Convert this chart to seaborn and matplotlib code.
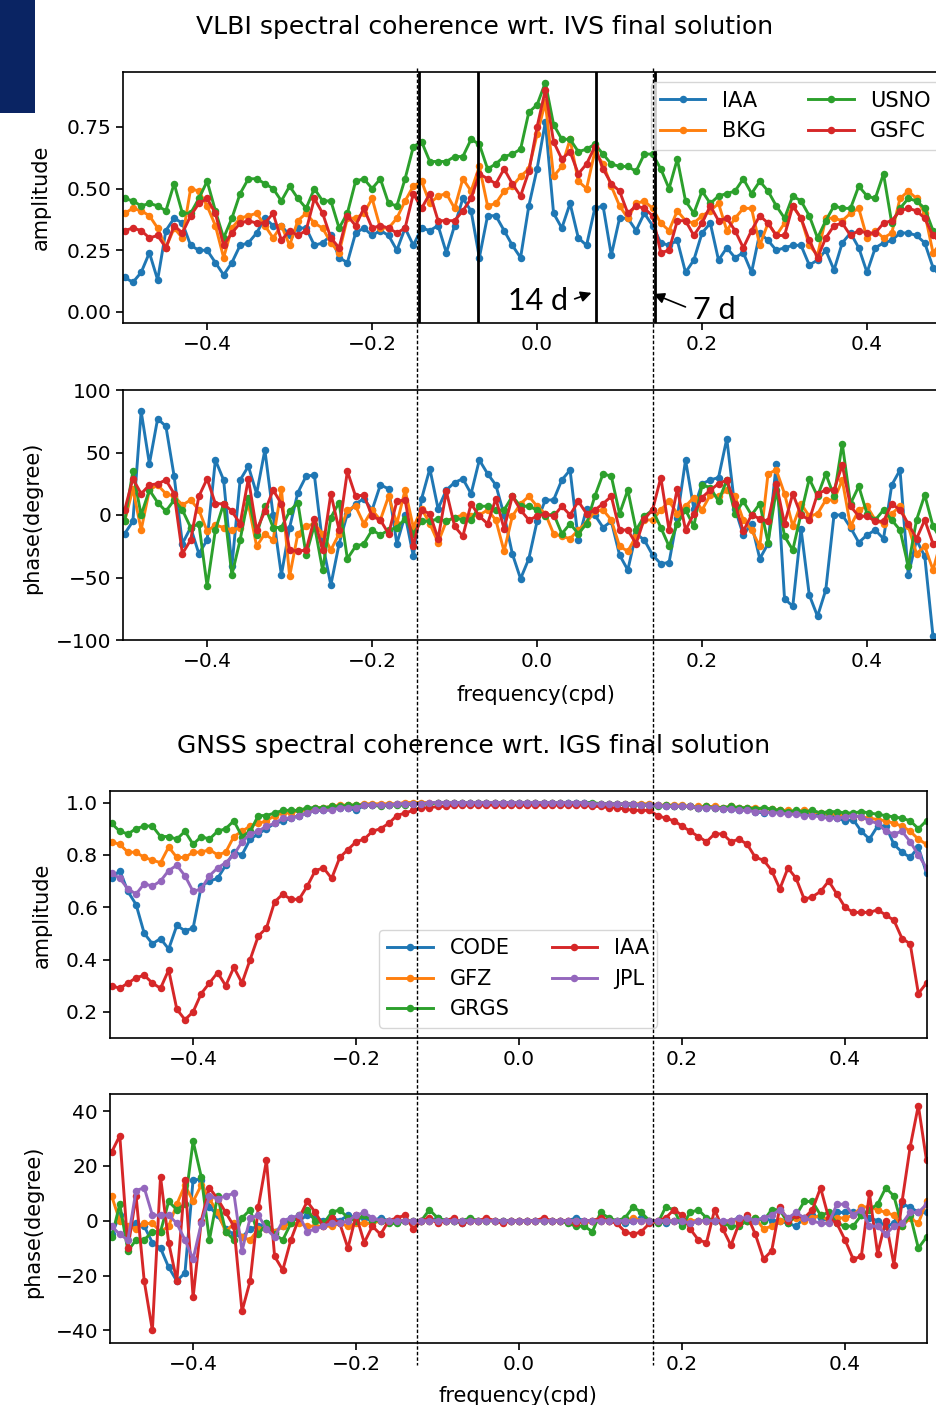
import numpy as np
import matplotlib
matplotlib.use("Agg")
import matplotlib.pyplot as plt
import seaborn as sns
from matplotlib.lines import Line2D
from matplotlib.patches import Rectangle

# ---------------- data ----------------
freq = np.round(np.linspace(-0.5, 0.5, 101), 2)   # frequency grid (cpd)

vlbi_names = ["IAA", "BKG", "USNO", "GSFC"]
vlbi_colors = ["#1f77b4", "#ff7f0e", "#2ca02c", "#d62728"]

vlbi_amp_IAA = [0.14,0.12,0.16,0.24,0.13,0.33,0.38,0.36,0.27,0.25,0.25,0.20,0.15,0.20,0.27,0.28,0.32,0.38,0.35,0.35,0.31,0.34,0.34,0.27,0.28,0.31,0.22,0.20,0.32,0.34,0.31,0.33,0.31,0.25,0.34,0.27,0.34,
                0.33,0.35,0.24,0.35,0.46,0.41,0.22,0.39,0.39,0.33,0.27,0.22,0.43,0.58,0.77,0.40,0.34,0.44,0.30,0.27,0.42,0.43,0.23,0.38,0.38,0.33,0.40,0.35,0.28,0.27,0.29,0.16,
                0.21,0.32,0.36,0.21,0.26,0.22,0.24,0.16,0.32,0.29,0.25,0.26,0.27,0.27,0.19,0.21,0.25,0.17,0.28,0.32,0.26,0.16,0.26,0.28,0.29,0.32,0.32,0.31,0.28,0.18,0.14,0.20]
vlbi_amp_BKG = [0.40,0.42,0.41,0.39,0.34,0.26,0.34,0.30,0.50,0.49,0.43,0.35,0.22,0.34,0.38,0.39,0.40,0.35,0.30,0.35,0.27,0.37,0.40,0.36,0.34,0.28,0.24,0.38,0.38,0.40,0.46,0.34,0.34,0.38,0.45,0.51,0.53,
                0.44,0.47,0.48,0.42,0.54,0.49,0.59,0.43,0.44,0.49,0.51,0.55,0.58,0.72,0.85,0.55,0.59,0.70,0.53,0.50,0.65,0.60,0.51,0.43,0.38,0.44,0.45,0.42,0.36,0.33,0.41,0.37,
                0.36,0.39,0.41,0.44,0.33,0.38,0.42,0.42,0.27,0.36,0.31,0.36,0.43,0.38,0.27,0.23,0.38,0.38,0.37,0.40,0.42,0.30,0.33,0.30,0.32,0.46,0.49,0.46,0.40,0.24,0.28,0.33]
vlbi_amp_USNO = [0.46,0.45,0.43,0.44,0.43,0.41,0.52,0.40,0.40,0.46,0.53,0.41,0.30,0.38,0.48,0.54,0.54,0.52,0.50,0.45,0.51,0.46,0.42,0.50,0.45,0.45,0.34,0.40,0.53,0.54,0.50,0.54,0.44,0.43,0.54,0.67,0.69,
                 0.61,0.61,0.61,0.63,0.63,0.70,0.68,0.58,0.60,0.63,0.64,0.66,0.81,0.84,0.93,0.76,0.70,0.70,0.65,0.66,0.68,0.64,0.60,0.59,0.59,0.57,0.64,0.64,0.58,0.50,0.62,0.45,
                 0.40,0.49,0.44,0.47,0.48,0.49,0.54,0.48,0.53,0.49,0.43,0.38,0.47,0.45,0.39,0.30,0.37,0.43,0.42,0.42,0.51,0.47,0.46,0.56,0.36,0.42,0.46,0.45,0.42,0.33,0.29,0.31]
vlbi_amp_GSFC = [0.33,0.34,0.33,0.30,0.31,0.26,0.35,0.32,0.39,0.44,0.46,0.40,0.27,0.32,0.36,0.37,0.36,0.36,0.40,0.29,0.33,0.31,0.33,0.46,0.40,0.30,0.26,0.39,0.35,0.42,0.34,0.35,0.34,0.32,0.34,0.48,0.42,
                 0.48,0.37,0.37,0.37,0.41,0.46,0.56,0.54,0.52,0.58,0.52,0.47,0.57,0.75,0.90,0.69,0.62,0.65,0.56,0.60,0.67,0.58,0.52,0.49,0.40,0.43,0.42,0.39,0.24,0.25,0.37,0.37,
                 0.31,0.36,0.43,0.37,0.38,0.33,0.26,0.33,0.39,0.36,0.31,0.31,0.43,0.38,0.29,0.22,0.30,0.35,0.36,0.31,0.33,0.32,0.32,0.36,0.37,0.41,0.42,0.41,0.38,0.31,0.28,0.32]

vlbi_ph_IAA = [-15,-5,83,41,77,71,31,-23,-10,-31,-20,44,28,-41,28,39,17,52,0,-48,-10,18,31,32,-23,-56,-23,1,9,13,4,24,21,-23,0,-33,13,
               37,5,20,26,29,
               17,44,33,24,0,-31,-51,-35,-5,12,12,28,36,-20,5,0,-10,-5,-32,-44,-15,-20,-32,-39,-38,-2,44,5,25,28,30,61,5,-16,-7,-35,-23,41,-67,-73,-11,-64,-81,-60,0,0,-10,-22,-16,-12,-19,24,36,-48,-20,-33,-97,-110,-120]
vlbi_ph_BKG = [-5,21,-12,20,24,17,15,8,12,4,-13,-8,-10,-12,-10,9,-25,-15,-20,21,-49,-15,-9,-7,-15,-28,-15,4,7,-7,4,-4,15,-7,20,-10,5,-7,-22,-5,-2,0,
               -1,0,4,-4,-29,-1,9,15,7,1,-15,-17,-19,-12,-6,3,4,-4,-25,-29,-17,-4,-4,4,11,1,7,14,4,16,15,20,15,-4,-12,-25,33,36,17,-9,9,-1,1,12,12,28,-9,4,7,-4,-7,1,7,-9,-31,-25,-44,-20,-30]
vlbi_ph_USNO = [-5,35,0,20,10,3,12,4,-10,-7,-57,-12,9,-48,-20,14,-16,7,-10,-10,3,10,-32,-8,-44,-2,10,-35,-25,-23,-12,-16,-12,-10,-3,-15,-5,-5,-3,-5,-2,-4,
                -4,7,7,4,4,15,7,7,4,-1,1,-15,-7,-15,-7,15,33,31,1,20,-12,-1,4,-10,-25,-7,4,-9,24,22,11,28,1,11,0,9,-22,20,-17,-28,1,29,15,33,15,57,9,23,1,-4,4,-4,-12,-41,-4,16,-9,-20,-10]
vlbi_ph_GSFC = [4,29,17,24,25,28,17,-31,-20,15,29,9,9,3,-7,29,-12,3,20,9,-28,-29,-28,-3,-28,17,-12,35,15,16,-1,-4,-15,11,12,-25,4,1,-19,19,-9,-17,
                9,-1,-7,13,-11,15,4,-4,-1,1,-1,7,0,11,1,4,9,15,-12,-12,-23,-3,4,30,-12,21,-12,1,14,20,25,28,9,-13,0,-3,-5,25,-7,17,0,-4,17,20,20,40,7,-1,-1,-5,-5,9,4,-7,-19,-4,-23,-20,-10]

gnss_names = ["CODE", "GFZ", "GRGS", "IAA", "JPL"]
gnss_colors = ["#1f77b4", "#ff7f0e", "#2ca02c", "#d62728", "#9467bd"]

gnss_amp_CODE = [0.71,0.74,0.66,0.61,0.50,0.46,0.48,0.44,0.53,0.51,0.52,0.68,0.70,0.71,0.76,0.81,0.80,0.86,0.88,0.90,0.92,0.93,0.94,0.95,0.96,0.97,0.97,0.98,0.98,0.98,0.97,0.99,
                 0.99,0.99,0.99,0.995,0.995,0.995,0.995,0.995,1.0,1.0,1.0,1.0,1.0,1.0,1.0,1.0,1.0,1.0,1.0,1.0,1.0,1.0,1.0,1.0,1.0,1.0,1.0,0.995,0.995,0.995,0.995,0.99,0.99,
                 0.99,0.99,0.99,0.985,0.985,0.985,0.985,0.98,0.98,0.98,0.975,0.975,0.97,0.975,0.965,0.96,0.965,0.965,0.96,0.96,0.955,0.96,0.955,
                 0.955,0.94,0.93,0.935,0.89,0.86,0.91,0.91,0.84,0.81,0.79,0.83,0.73]
gnss_amp_GFZ = [0.85,0.84,0.81,0.81,0.79,0.78,0.77,0.83,0.79,0.79,0.81,0.81,0.82,0.80,0.81,0.87,0.89,0.91,0.92,0.93,0.95,0.96,0.96,0.97,0.97,0.98,
                0.98,0.985,0.99,0.99,0.99,0.995,0.995,0.995,0.995,0.995,1.0,1.0,1.0,1.0,1.0,1.0,1.0,1.0,1.0,1.0,1.0,1.0,1.0,1.0,1.0,1.0,1.0,1.0,1.0,1.0,0.995,0.995,0.995,0.995,0.995,0.995,0.995,0.995,0.995,
                0.995,0.995,0.99,0.99,0.99,0.99,0.985,0.985,0.985,0.985,0.98,0.985,0.98,0.98,0.98,0.975,0.975,0.97,0.97,0.965,0.97,0.965,0.96,0.96,0.955,0.95,0.95,0.945,0.94,0.935,0.93,0.92,0.91,0.89,0.86,0.84]
gnss_amp_GRGS = [0.92,0.89,0.88,0.90,0.91,0.91,0.87,0.87,0.86,0.89,0.84,0.87,0.86,0.89,0.90,0.93,0.87,0.89,0.95,0.95,0.96,0.97,0.97,0.97,0.98,
                 0.98,0.98,0.985,0.985,0.99,0.99,0.99,0.99,0.985,0.99,0.99,0.99,0.995,0.995,0.995,1.0,1.0,1.0,1.0,1.0,1.0,1.0,1.0,1.0,1.0,1.0,1.0,1.0,1.0,1.0,1.0,1.0,1.0,1.0,1.0,0.995,0.995,0.995,0.995,0.995,
                 0.99,0.99,0.985,0.99,0.985,0.985,0.985,0.98,0.985,0.98,0.98,0.985,0.98,0.98,0.975,0.98,0.975,0.97,0.965,0.97,0.965,0.97,0.96,0.965,0.965,0.96,0.96,0.965,0.96,0.955,0.95,0.945,0.94,0.93,0.90,0.93]
gnss_amp_IAA = [0.30,0.29,0.31,0.33,0.34,0.31,0.29,0.36,0.21,0.17,0.20,0.27,0.31,0.35,0.30,0.37,0.31,0.40,0.49,0.52,0.62,0.65,0.63,0.63,0.68,0.74,0.75,0.71,0.79,0.82,0.85,0.86,0.89,0.90,0.92,0.95,0.96,0.97,0.98,
                0.98,0.985,0.985,0.99,0.99,0.99,0.99,0.99,0.99,0.99,0.99,0.99,0.99,0.99,0.99,0.99,0.99,0.99,0.99,0.99,0.985,0.985,0.98,0.98,0.975,0.97,
                0.97,0.97,0.95,0.94,0.93,0.91,0.89,0.87,0.85,0.88,0.88,0.85,0.86,0.84,0.79,0.78,0.74,0.67,0.75,0.71,0.63,0.64,0.66,0.70,0.65,0.60,0.58,0.58,0.58,0.59,0.57,0.55,0.48,0.46,0.27,0.31]
gnss_amp_JPL = [0.73,0.71,0.67,0.65,0.69,0.68,0.70,0.74,0.76,0.72,0.66,0.67,0.72,0.75,0.77,0.80,0.85,0.88,0.89,0.91,0.92,0.94,0.94,0.95,0.96,0.97,0.97,0.97,0.98,0.98,0.98,0.99,0.99,
                0.99,0.99,0.995,0.995,0.995,0.995,1.0,1.0,1.0,1.0,1.0,1.0,1.0,1.0,1.0,1.0,1.0,1.0,1.0,1.0,1.0,1.0,1.0,1.0,1.0,1.0,0.995,0.995,0.995,0.995,0.995,0.995,
                0.99,0.99,0.99,0.985,0.985,0.985,0.985,0.98,0.98,0.98,0.975,0.975,0.97,0.97,0.965,0.965,0.96,0.96,0.955,0.955,0.95,0.95,0.945,0.94,0.94,0.945,0.95,0.945,0.93,0.92,0.89,0.88,0.89,0.85,0.80,0.75]

gnss_ph_CODE = [-5,2,-3,-1,-2,-8,-10,-17,-22,-19,15,15,5,2,-3,-5,-6,-3,-2,-1,-4,-2,1,0,2,1,0,1,0,2,1,1,0,1,0,0,0,0,0,
                0,1,0,0,-1,0,0,0,0,0,0,0,0,0,0,0,0,0,1,0,0,
                0,0,0,-1,0,1,0,0,-1,0,-1,-1,0,0,0,-1,0,1,0,0,1,0,0,-1,-2,1,2,1,0,3,3,3,2,1,0,-2,-1,6,5,3,3]
gnss_ph_GFZ = [9,0,-2,-3,-1,-1,-4,-2,6,13,7,13,8,3,-4,-1,-6,-7,-3,-3,-4,-2,-1,-1,-2,-2,-2,-2,-1,-2,-1,-1,-1,0,0,0,0,0,0,
               0,0,0,0,0,0,0,0,0,0,0,0,0,0,0,0,0,0,0,-1,0,
               0,0,0,0,1,0,0,0,0,0,0,0,0,0,0,-1,0,0,0,1,-3,-2,0,0,1,0,1,2,0,1,1,2,5,5,4,3,2,-2,1,-1,7]
gnss_ph_GRGS = [-6,6,-11,-7,-7,-4,-4,7,4,6,29,16,-7,9,-4,-7,1,4,-5,-1,-5,-7,-1,2,4,0,-1,3,4,1,0,2,0,0,-1,-1,0,0,0,
                4,1,0,0,0,1,0,0,0,0,0,0,0,0,0,0,0,-1,-2,-2,-4,
                3,1,0,1,5,3,0,-1,5,4,-2,3,4,1,0,-1,-2,-2,0,1,0,4,4,-1,2,7,7,2,3,-1,-2,-2,2,4,6,12,9,-2,2,-10,-6]
gnss_ph_IAA = [25,31,-10,9,-22,-40,16,-8,-22,15,-28,0,12,8,3,-2,-33,-22,5,22,-13,-18,-7,1,7,3,-2,1,-1,-10,2,-8,-2,-5,0,1,2,-3,0,
               1,-1,0,1,-1,0,0,1,0,-1,0,0,0,0,1,0,0,0,-1,0,0,
               1,0,-1,-4,-5,-4,-1,0,1,4,2,-3,-7,-8,4,-3,-9,-1,2,-5,-14,-11,5,0,2,1,4,12,1,-1,-7,-14,-13,10,-12,0,-16,7,27,42,22]
gnss_ph_JPL = [-2,-5,-7,11,12,2,2,2,-1,-7,-14,-1,9,8,9,10,-11,1,2,-3,-6,0,1,2,-4,-3,-2,-1,-1,0,2,3,1,0,0,0,0,0,0,
               0,0,0,0,0,0,0,0,0,0,0,0,0,0,0,0,0,0,0,0,0,
               0,0,0,0,0,0,0,0,0,0,0,-1,0,0,0,0,0,1,1,0,1,2,4,1,3,1,0,-1,-1,6,6,2,4,-2,-2,-5,-2,-1,3,3,6]

period_lines = [-1/7, -1/14, 1/14, 1/7]   # 7 d and 14 d periods (cpd)

# ---------------- styling ----------------
plt.rcParams.update({
    "font.family": ["DejaVu Sans"],
    "axes.linewidth": 1.2,
    "xtick.major.width": 1.2, "ytick.major.width": 1.2,
    "xtick.major.size": 5, "ytick.major.size": 5,
    "xtick.labelsize": 14.5, "ytick.labelsize": 14.5,
    "axes.labelsize": 15,
})

W, H = 936, 1405
fig = plt.figure(figsize=(W / 100, H / 100), dpi=100)

def px_axes(left, top, right, bottom):
    return fig.add_axes([left / W, 1 - bottom / H, (right - left) / W, (bottom - top) / H])

ax1 = px_axes(123, 72, 949.5, 323)
ax2 = px_axes(123, 390, 949.5, 640)
ax3 = px_axes(110, 791, 926.5, 1038)
ax4 = px_axes(110, 1094, 926.5, 1343)

LW, MS = 2.1, 5.4

def draw(ax, series, names, colors, with_label):
    for vals, name, col in zip(series, names, colors):
        kw = dict(label=name) if with_label else {}
        sns.lineplot(x=freq, y=vals, ax=ax, color=col, marker="o", markersize=MS,
                     markeredgewidth=0, linewidth=LW, legend=False, **kw)

draw(ax1, [vlbi_amp_IAA, vlbi_amp_BKG, vlbi_amp_USNO, vlbi_amp_GSFC], vlbi_names, vlbi_colors, True)
draw(ax2, [vlbi_ph_IAA, vlbi_ph_BKG, vlbi_ph_USNO, vlbi_ph_GSFC], vlbi_names, vlbi_colors, False)
draw(ax3, [gnss_amp_CODE, gnss_amp_GFZ, gnss_amp_GRGS, gnss_amp_IAA, gnss_amp_JPL], gnss_names, gnss_colors, True)
draw(ax4, [gnss_ph_CODE, gnss_ph_GFZ, gnss_ph_GRGS, gnss_ph_IAA, gnss_ph_JPL], gnss_names, gnss_colors, False)

for ax in (ax1, ax2, ax3, ax4):
    ax.set_xlim(-0.502, 0.5)
    ax.set_xticks([-0.4, -0.2, 0.0, 0.2, 0.4])
    ax.set_xlabel("")

ax1.set_ylim(-0.045, 0.973)
ax1.set_yticks([0.0, 0.25, 0.5, 0.75])
ax2.set_ylim(-100, 100)
ax2.set_yticks([-100, -50, 0, 50, 100])
ax3.set_ylim(0.10, 1.044)
ax3.set_yticks([0.2, 0.4, 0.6, 0.8, 1.0])
ax4.set_ylim(-44.6, 46.2)
ax4.set_yticks([-40, -20, 0, 20, 40])

ax1.set_ylabel("amplitude")
ax2.set_ylabel("phase(degree)")
ax3.set_ylabel("amplitude")
ax4.set_ylabel("phase(degree)")
ax1.yaxis.set_label_coords(-0.088, 0.5)
ax2.yaxis.set_label_coords(-0.098, 0.49)
ax3.yaxis.set_label_coords(-0.071, 0.495)
ax4.yaxis.set_label_coords(-0.082, 0.487)
ax2.set_xlabel("frequency(cpd)", labelpad=10)
ax4.set_xlabel("frequency(cpd)", labelpad=8.5)

for xv in period_lines:
    ax1.axvline(xv, color="black", lw=2.0, zorder=4)

ax1.legend(ncol=2, loc="upper right", fontsize=15, frameon=True, handlelength=2.2)
ax3.legend(ncol=2, loc="lower center", fontsize=15, frameon=True, handlelength=2.2)

# period annotations
ann_font = dict(family=["Lato", "DejaVu Sans"], fontsize=22, color="black")
ax1.text(-0.0355, 0.043, "14 d", ha="left", va="center", **ann_font)
ax1.text(0.189, 0.008, "7 d", ha="left", va="center", clip_on=False, **ann_font)
ax1.annotate("", xy=(0.0691, 0.081), xytext=(0.0424, 0.049),
             arrowprops=dict(arrowstyle="-|>", color="black", lw=1.2, mutation_scale=16))
ax1.annotate("", xy=(0.138, 0.077), xytext=(0.183, 0.016),
             arrowprops=dict(arrowstyle="-|>", color="black", lw=1.2, mutation_scale=16))

# titles
fig.text(485 / W, 1 - 27 / H, "VLBI spectral coherence wrt. IVS final solution",
         ha="center", va="center", fontsize=18)
fig.text(474 / W, 1 - 746 / H, "GNSS spectral coherence wrt. IGS final solution",
         ha="center", va="center", fontsize=18)

# figure-wide dotted guide lines
for xp in (417, 653):
    fig.add_artist(Line2D([xp / W, xp / W], [1 - 68 / H, 1 - 1365 / H], transform=fig.transFigure,
                          color="black", lw=1.0, linestyle=(0, (2.5, 1.5)), zorder=20))

# dark corner block
fig.add_artist(Rectangle((0, 1 - 113 / H), 35 / W, 113 / H, transform=fig.transFigure,
                         facecolor="#0a2463", edgecolor="none", zorder=20))

fig.savefig("out.png", dpi=100)
